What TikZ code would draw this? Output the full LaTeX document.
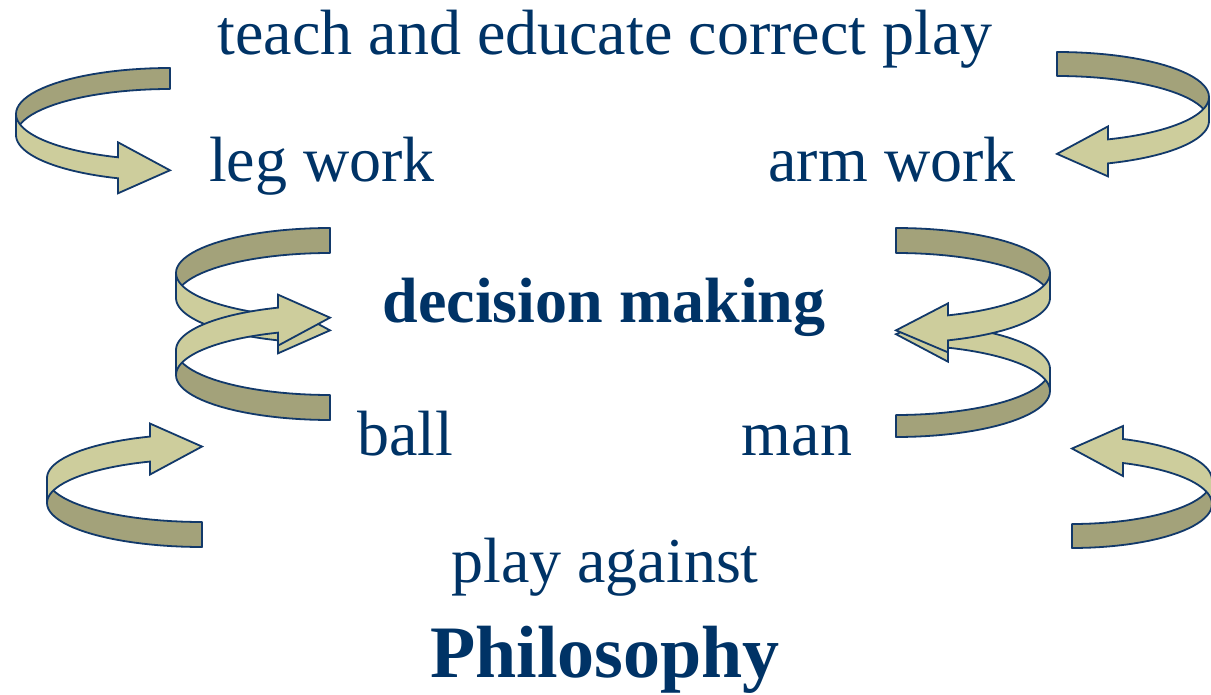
\documentclass[tikz,border=0pt]{standalone}
\usepackage{fontspec}
\usepackage{xcolor}
\usepackage{tikz}
\setmainfont{Liberation Serif}

\definecolor{inkblue}{HTML}{003366}
\definecolor{rimblue}{HTML}{12396A}
\definecolor{oliveback}{HTML}{A3A27A}
\definecolor{olivefront}{HTML}{CDCD9C}

% ribbon arrow: rx, ry, band, base offset, head length, barb
\newcommand{\curlarrow}[6]{%
\pgfmathsetmacro\curlt{180-acos(#4/#1)}
\pgfmathsetmacro\curly{#2*sin(\curlt)}
\filldraw [backband] plot[domain=270:180] ({#1*cos(\x)},{#2*sin(\x)})
  -- plot[domain=180:270] ({#1*cos(\x)},{#2*sin(\x)+#3}) -- cycle;
\filldraw [frontband] plot[domain=180:\curlt] ({#1*cos(\x)},{#2*sin(\x)})
  -- (-#4,\curly-#6) -- (#5-#4,\curly+#3/2+2.5) -- (-#4,\curly+#3+#6)
  -- plot[domain=\curlt:180] ({#1*cos(\x)},{#2*sin(\x)+#3}) -- cycle;
}

\begin{document}
\begin{tikzpicture}[x=1pt,y=-1pt]
\tikzstyle{every node}+=[inner sep=0pt,anchor=base,text=inkblue]
\tikzstyle{backband}=[draw=rimblue,fill=oliveback,line width=1.8pt,line join=round]
\tikzstyle{frontband}=[draw=rimblue,fill=olivefront,line width=1.8pt,line join=miter]
\tikzstyle{plain}=[font=\fontsize{64}{70}\selectfont]
\tikzstyle{heavy}=[font=\fontsize{64}{70}\selectfont\bfseries]
\clip (0,0) rectangle (1211,695);
% top pair
\begin{scope}[shift={(170,114)}]
\curlarrow{154}{46}{21}{52}{52}{15}
\end{scope}
\begin{scope}[shift={(1057,97)},xscale=-1]
\curlarrow{152}{45}{24}{51}{51}{13}
\end{scope}
% middle left, the lower loop crosses over
\begin{scope}[shift={(330,273)}]
\curlarrow{154}{45}{25}{52}{52}{13}
\end{scope}
\begin{scope}[shift={(330,375)},yscale=-1]
\curlarrow{154}{45}{25}{52}{52}{13}
\end{scope}
% middle right
\begin{scope}[shift={(896,391)},xscale=-1,yscale=-1]
\curlarrow{154}{46}{22}{52}{52}{14}
\end{scope}
\begin{scope}[shift={(896,273)},xscale=-1]
\curlarrow{154}{45}{25}{52}{52}{12}
\end{scope}
% bottom pair
\begin{scope}[shift={(202,503)},yscale=-1]
\curlarrow{155}{44}{25}{52}{52}{13}
\end{scope}
\begin{scope}[shift={(1072,504)},xscale=-1,yscale=-1]
\curlarrow{140}{44}{24}{51}{51}{13}
\end{scope}
% labels
\node [plain] (teach) at (605,55) {teach and educate correct play};
\node [plain] (leg) at (322,182) {leg work};
\node [plain] (arm) at (892,182) {arm work};
\node [heavy] (decide) at (604,323) {decision making};
\node [plain] (ball) at (405,455) {ball};
\node [plain] (man) at (797,455) {man};
\node [plain] (against) at (605,582) {play against};
\node [font=\fontsize{74}{80}\selectfont\bfseries] (philo) at (605,677) {Philosophy};
\end{tikzpicture}
\end{document}
